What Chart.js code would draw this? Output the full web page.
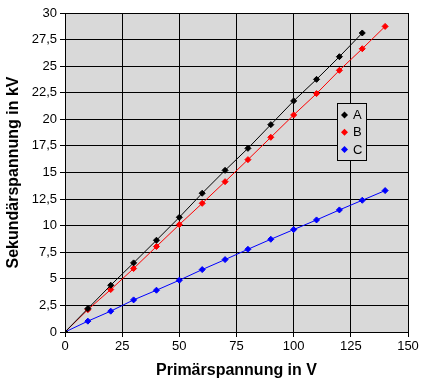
<!DOCTYPE html>
<html><head><meta charset="utf-8">
<script src="https://cdn.jsdelivr.net/npm/chart.js@4"></script>
<style>html,body{margin:0;padding:0;background:#fff}#wrap{width:425px;height:387px}</style>
</head><body><div id="wrap"><canvas id="c" width="425" height="387"></canvas></div>
<script>
const primaer = [0,10,20,30,40,50,60,70,80,90,100,110,120,130,140];
const serieA = [0,2.2,4.4,6.5,8.63,10.79,13.05,15.2,17.27,19.5,21.73,23.76,25.89,28.12];
const serieB = [0,2.1,3.99,5.97,8.04,10.1,12.1,14.14,16.21,18.31,20.41,22.42,24.61,26.64,28.74];
const serieC = [0,1.02,1.96,3.02,3.93,4.87,5.87,6.81,7.78,8.72,9.63,10.54,11.48,12.39,13.3];
const labels = ['A','B','C'];
const colors = ['#000000','#ff0000','#0000ff'];
const FONT = '"Liberation Sans", Arial, sans-serif';

function pts(vals){ return vals.map((v,i)=>({x:primaer[i], y:v})); }

const bgPlugin = {
  id:'bg',
  beforeDraw(chart){
    const {ctx, chartArea:a} = chart;
    ctx.save(); ctx.fillStyle='#d9d9d9';
    ctx.fillRect(a.left,a.top,a.right-a.left,a.bottom-a.top);
    ctx.restore();
  }
};
const legendPlugin = {
  id:'boxLegend',
  afterDraw(chart){
    const ctx = chart.ctx;
    const x0=337.5, y0=103.5, w=29, h=57;
    ctx.save();
    ctx.fillStyle='#d9d9d9'; ctx.fillRect(x0,y0,w,h);
    ctx.strokeStyle='#000'; ctx.lineWidth=1; ctx.strokeRect(x0,y0,w,h);
    ctx.font='13px '+FONT; ctx.textBaseline='middle'; ctx.textAlign='left';
    chart.data.datasets.forEach((ds,i)=>{
      const cy = 115 + i*17.3, cx = 344.5;
      ctx.beginPath();
      ctx.moveTo(cx,cy-3.5); ctx.lineTo(cx+3.5,cy); ctx.lineTo(cx,cy+3.5); ctx.lineTo(cx-3.5,cy); ctx.closePath();
      ctx.fillStyle=ds.backgroundColor; ctx.fill();
      ctx.fillStyle='#000'; ctx.fillText(ds.label, 353, cy+0.5);
    });
    ctx.restore();
  }
};

new Chart(document.getElementById('c'), {
  type:'line',
  data:{ datasets:[
    {label:labels[0], data:pts(serieA)},
    {label:labels[1], data:pts(serieB)},
    {label:labels[2], data:pts(serieC)}
  ].map((d,i)=>Object.assign(d,{borderColor:colors[i], backgroundColor:colors[i], borderWidth:1,
      pointStyle:'rectRot', pointRadius:3, pointBorderWidth:1, pointBorderColor:colors[i], tension:0}))},
  options:{
    responsive:false, animation:false,
    layout:{padding:{top:13,right:17,left:0,bottom:0}},
    plugins:{legend:{display:false}, tooltip:{enabled:false}},
    scales:{
      x:{type:'linear', min:0, max:150,
        ticks:{stepSize:25, color:'#000', font:{family:FONT,size:13}, padding:2, maxRotation:0},
        grid:{color:'#000', lineWidth:1, tickLength:5},
        border:{color:'#000'},
        title:{display:true, text:'Primärspannung in V', color:'#000', font:{family:FONT,size:16,weight:'bold'}, padding:{top:0,bottom:7}},
        afterFit(s){ s.height=55; }
      },
      y:{min:0, max:30,
        ticks:{stepSize:2.5, color:'#000', font:{family:FONT,size:13}, padding:3,
          callback:v=>String(v).replace('.',',')},
        grid:{color:'#000', lineWidth:1, tickLength:5},
        border:{color:'#000'},
        title:{display:true, text:'Sekundärspannung in kV', color:'#000', font:{family:FONT,size:16,weight:'bold'}, padding:{top:4,bottom:0}},
        afterFit(s){ s.width=65; }
      }
    }
  },
  plugins:[bgPlugin, legendPlugin]
});
</script></body></html>
